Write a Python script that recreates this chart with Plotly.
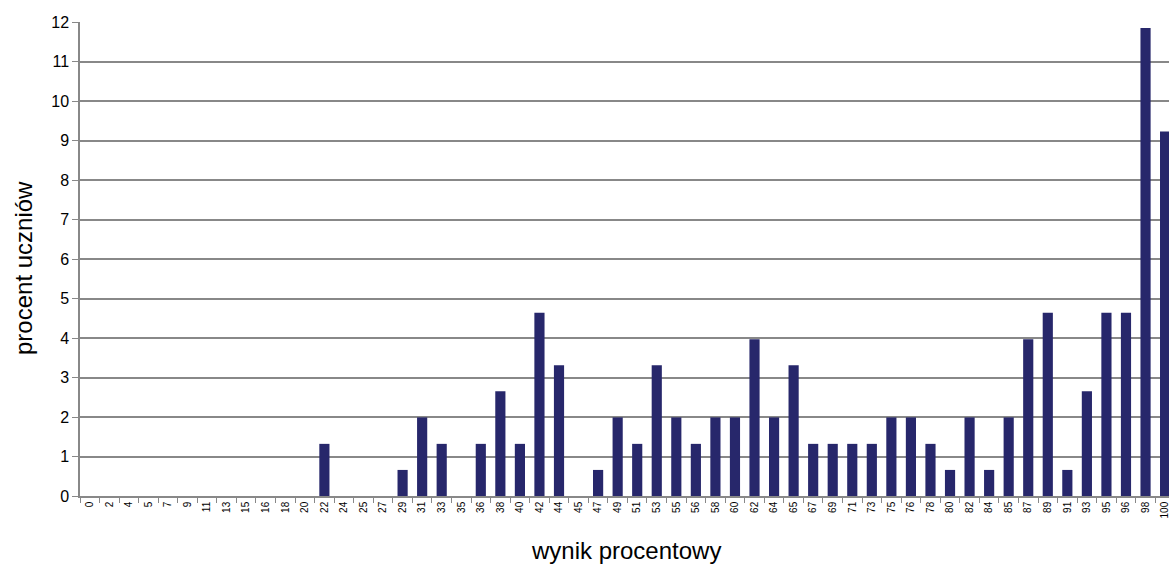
import plotly.graph_objects as go

categories = ["0","2","4","5","7","9","11","13","15","16","18","20","22","24","25","27","29","31","33","35",
              "36","38","40","42","44","45","47","49","51","53","55","56","58","60","62","64","65","67","69","71",
              "73","75","76","78","80","82","84","85","87","89","91","93","95","96","98","100"]
values = [0,0,0,0,0,0,0,0,0,0,0,0,1.32,0,0,0,0.66,1.99,1.32,0,
          1.32,2.65,1.32,4.64,3.31,0,0.66,1.99,1.32,3.31,1.99,1.32,1.99,1.99,3.97,1.99,3.31,1.32,1.32,1.32,
          1.32,1.99,1.99,1.32,0.66,1.99,0.66,1.99,3.97,4.64,0.66,2.65,4.64,4.64,11.85,9.23]
x_title = "wynik procentowy"
y_title = "procent uczniów"

font = "Liberation Sans, Arial, sans-serif"

fig = go.Figure(go.Bar(
    x=categories, y=values,
    marker=dict(color="#27276b", line=dict(width=0)),
    width=0.52,
))

fig.update_layout(
    width=1169, height=565,
    margin=dict(l=80, r=0, t=22, b=69),
    paper_bgcolor="white", plot_bgcolor="white",
    showlegend=False,
    font=dict(family=font, color="black"),
    xaxis=dict(
        type="category",
        range=[-0.5, 55.2],
        automargin=False,
        tickangle=-90,
        tickfont=dict(size=10, family=font),
        ticks="outside", ticklen=5, tickcolor="#888888",
        tickson="boundaries",
        showline=True, linecolor="#888888", linewidth=1.5,
        showgrid=False,
    ),
    yaxis=dict(
        range=[0, 12],
        dtick=1,
        automargin=False,
        tickfont=dict(size=16, family=font),
        ticks="outside", ticklen=6, tickcolor="#888888",
        showline=True, linecolor="#888888", linewidth=1.5,
        showgrid=True, gridcolor="#888888", gridwidth=1.5,
        zeroline=False,
    ),
    annotations=[
        dict(text=x_title, xref="paper", yref="paper", x=(626 - 80) / 1089, y=-(550 - 496) / 474,
             xanchor="center", yanchor="middle", showarrow=False, font=dict(size=24, family=font)),
        dict(text=y_title, xref="paper", yref="paper", x=-(80 - 23) / 1089, y=(496 - 268) / 474,
             xanchor="center", yanchor="middle", textangle=-90, showarrow=False, font=dict(size=24, family=font)),
    ],
)

fig.write_html("out.html", config={"displayModeBar": False},
               post_script="document.body.style.margin='0';document.body.style.overflow='hidden';")
